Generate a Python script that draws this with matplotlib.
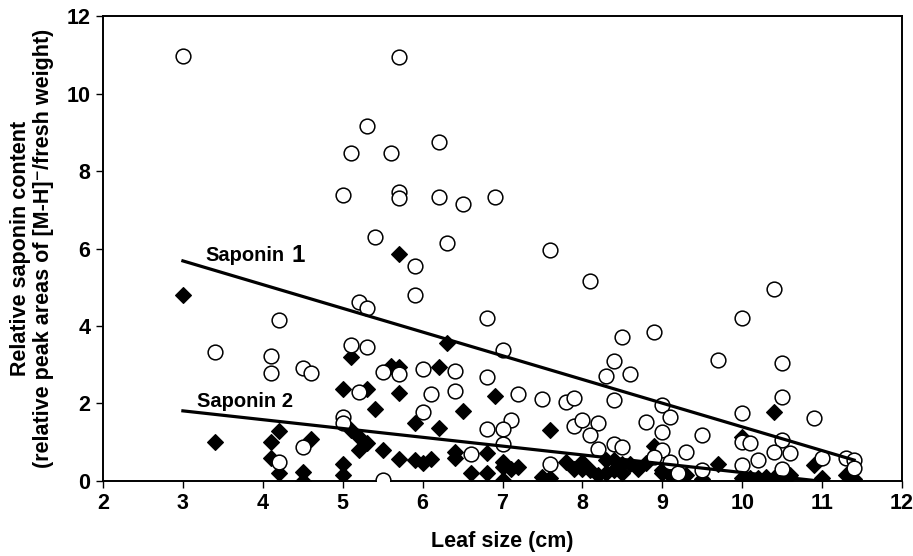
import numpy as np
import matplotlib
matplotlib.use('Agg')
import matplotlib.pyplot as plt

plt.rcParams['font.family'] = ['Liberation Sans', 'DejaVu Sans']
plt.rcParams['font.weight'] = 'bold'

# Saponin 1 (open circles)
x1 = [3.0, 5.7, 5.3, 5.1, 5.6, 6.2, 5.0, 5.7, 5.7, 6.2, 6.5, 6.9,
      5.4, 6.3, 7.6, 5.9, 8.1, 10.4, 5.9, 5.2, 5.3, 4.2, 6.8, 10.0,
      8.9, 8.5, 7.0, 3.4, 5.1, 5.3, 4.1, 8.4, 9.7, 10.5,
      4.5, 4.6, 4.1, 5.5, 5.7, 6.0, 6.4, 6.8, 8.3, 8.6,
      5.2, 6.1, 6.4, 7.2, 7.5, 7.8, 7.9, 8.4, 9.0, 10.5,
      9.1, 6.0, 7.1, 5.0, 5.0, 7.0, 6.8, 7.9, 8.0, 8.2, 8.8, 10.0, 10.9,
      8.1, 9.0, 9.5, 10.0, 10.1, 10.5,
      4.5, 8.2, 8.4, 8.5, 7.0, 9.0, 9.3, 6.6, 10.4, 10.6,
      8.9, 9.1, 4.2, 7.6, 10.0, 10.2, 11.0, 11.3, 11.4,
      10.5, 11.4, 9.5, 9.2, 5.5]
y1 = [10.97, 10.94, 9.16, 8.46, 8.46, 8.75, 7.38, 7.46, 7.30, 7.33, 7.15, 7.33,
      6.30, 6.14, 5.97, 5.54, 5.17, 4.95, 4.80, 4.62, 4.46, 4.15, 4.21, 4.21,
      3.85, 3.72, 3.37, 3.33, 3.51, 3.46, 3.23, 3.10, 3.12, 3.05,
      2.92, 2.79, 2.79, 2.80, 2.76, 2.89, 2.84, 2.68, 2.71, 2.76,
      2.30, 2.25, 2.33, 2.25, 2.11, 2.04, 2.14, 2.09, 1.96, 2.17,
      1.65, 1.77, 1.58, 1.65, 1.50, 1.33, 1.34, 1.42, 1.57, 1.50, 1.52, 1.76, 1.63,
      1.19, 1.26, 1.18, 1.00, 0.98, 1.06,
      0.88, 0.83, 0.95, 0.88, 0.95, 0.80, 0.75, 0.70, 0.75, 0.72,
      0.62, 0.49, 0.50, 0.44, 0.41, 0.54, 0.60, 0.59, 0.55,
      0.31, 0.33, 0.28, 0.20, 0.03]

# Saponin 2 (filled diamonds)
x2 = [3.0, 5.7, 6.3, 5.1, 5.6, 5.7, 6.2, 5.0, 5.3, 5.7, 6.9,
      5.4, 6.5, 10.4, 5.9, 6.2, 7.6, 5.1, 4.2, 5.2, 4.6, 3.4, 4.1, 5.3, 10.0,
      8.9, 5.2, 5.5, 4.1, 5.7, 5.9, 6.0, 6.1, 6.4, 6.4, 6.8,
      5.0, 7.0, 7.0, 7.1, 7.2, 7.8, 7.9, 8.0, 8.1, 8.3, 8.4, 8.4, 8.6, 8.8, 9.7, 10.9,
      4.2, 4.5, 4.5, 5.0, 6.6, 6.8, 7.0, 7.5, 7.6, 8.2, 8.5, 9.0, 9.0, 9.1, 9.2, 9.3, 9.5,
      10.0, 10.1, 10.2, 10.3, 10.4, 10.5, 10.6, 11.0, 11.3, 11.4,
      8.0, 8.3, 8.7, 8.5]
y2 = [4.80, 5.87, 3.56, 3.19, 2.97, 2.94, 2.94, 2.37, 2.37, 2.27, 2.19,
      1.85, 1.81, 1.78, 1.50, 1.37, 1.32, 1.32, 1.29, 1.13, 1.08, 1.01, 1.01, 0.98, 1.14,
      0.90, 0.80, 0.80, 0.60, 0.58, 0.55, 0.47, 0.57, 0.76, 0.59, 0.72,
      0.43, 0.49, 0.35, 0.32, 0.35, 0.48, 0.30, 0.48, 0.28, 0.53, 0.54, 0.28, 0.44, 0.46, 0.43, 0.41,
      0.20, 0.23, 0.00, 0.15, 0.20, 0.20, 0.03, 0.10, 0.08, 0.15, 0.20, 0.28, 0.20, 0.15, 0.02, 0.15, 0.05,
      0.08, 0.08, 0.08, 0.10, 0.08, 0.10, 0.15, 0.08, 0.15, 0.05,
      0.30, 0.20, 0.30, 0.45]

# trend lines (end points)
fit_x = [3.0, 11.4]
fit1_y = [5.68, 0.54]
fit2_y = [1.81, -0.10]

fig = plt.figure(figsize=(9.13, 5.56), dpi=100)
ax = fig.add_axes([0.1128, 0.1349, 0.8752, 0.8363])

ax.plot(x2, y2, 'D', ms=8.3, mfc='black', mec='black', mew=0.8, ls='none', zorder=2)
ax.plot(x1, y1, 'o', ms=10.6, mfc='white', mec='black', mew=1.1, ls='none', zorder=3)
ax.plot(fit_x, fit1_y, 'k-', lw=2.3, zorder=4)
ax.plot(fit_x, fit2_y, 'k-', lw=2.3, zorder=4)

t1 = ax.text(3.28, 5.83, 'Saponin', fontsize=14.5, fontweight='bold', va='center', ha='left')
ax.annotate('1', xy=(1, 0.5), xycoords=t1, xytext=(5, 0), textcoords='offset points',
            fontsize=17.5, fontweight='bold', va='center', ha='left')
ax.text(3.18, 2.06, 'Saponin 2', fontsize=14.5, fontweight='bold', va='center', ha='left')

ax.set_xlim(2, 12)
ax.set_ylim(0, 12)
ax.set_xticks(range(2, 13))
ax.set_yticks(range(0, 13, 2))
ax.tick_params(direction='out', length=5, width=1, labelsize=15.5, pad=4)
for lab in ax.get_xticklabels() + ax.get_yticklabels():
    lab.set_fontweight('bold')
for sp in ax.spines.values():
    sp.set_linewidth(1.4)

ax.set_xlabel('Leaf size (cm)', fontsize=15.5, fontweight='bold', labelpad=12)
ax.set_ylabel('Relative saponin content\n(relative peak areas of [M-H]\u207b/fresh weight)',
              fontsize=15.5, fontweight='bold', labelpad=9, linespacing=1.1)

fig.savefig('out.png', dpi=100)
